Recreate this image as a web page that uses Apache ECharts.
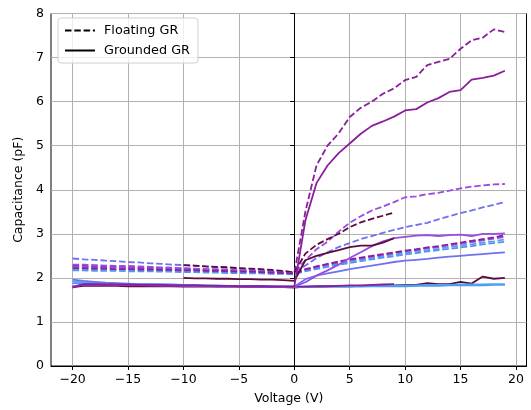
<!DOCTYPE html>
<html>
<head>
<meta charset="utf-8">
<script src="https://cdn.jsdelivr.net/npm/echarts@6/dist/echarts.min.js"></script>
<style>
html,body{margin:0;padding:0;background:#fff;}
#chart{width:531px;height:410px;}
</style>
</head>
<body>
<div id="chart"></div>
<script>
// Voltage sweeps
const volts = [-20,-19,-18,-17,-16,-15,-14,-13,-12,-11,-10,-9,-8,-7,-6,-5,-4,-3,-2,-1,0,1,2,3,4,5,6,7,8,9,10,11,12,13,14,15,16,17,18,19];
const voltsShort = [-10,-9,-8,-7,-6,-5,-4,-3,-2,-1,0,1,2,3,4,5,6,7,8,9];
const voltsTo9 = [-20,-19,-18,-17,-16,-15,-14,-13,-12,-11,-10,-9,-8,-7,-6,-5,-4,-3,-2,-1,0,1,2,3,4,5,6,7,8,9];
const xTicks = [-20,-15,-10,-5,0,5,10,15,20];
const yTicks = [0,1,2,3,4,5,6,7,8];

// Floating GR (dashed)
const floatA = [2.27,2.27,2.26,2.25,2.25,2.24,2.23,2.23,2.22,2.21,2.21,2.2,2.19,2.19,2.18,2.17,2.16,2.15,2.14,2.12,2.1,3.5,4.55,5.0,5.28,5.65,5.86,6.0,6.18,6.3,6.49,6.56,6.83,6.9,6.97,7.2,7.39,7.45,7.64,7.58];
const floatB = [2.3,2.3,2.29,2.28,2.27,2.27,2.26,2.25,2.24,2.23,2.22,2.21,2.2,2.19,2.18,2.17,2.16,2.15,2.14,2.13,2.12,2.4,2.65,2.82,3.05,3.25,3.4,3.53,3.62,3.72,3.83,3.85,3.9,3.93,3.98,4.03,4.07,4.1,4.12,4.13];
const floatC = [2.44,2.42,2.41,2.39,2.38,2.36,2.35,2.33,2.32,2.3,2.29,2.27,2.26,2.24,2.23,2.21,2.2,2.18,2.16,2.14,2.12,2.28,2.45,2.58,2.7,2.79,2.88,2.95,3.02,3.09,3.15,3.2,3.25,3.33,3.4,3.47,3.53,3.6,3.66,3.72];
const floatD = [2.29,2.28,2.26,2.25,2.24,2.22,2.21,2.2,2.18,2.16,2.12,2.55,2.75,2.88,3.0,3.15,3.26,3.34,3.41,3.48];
const floatE = [2.22,2.22,2.21,2.21,2.2,2.2,2.19,2.19,2.18,2.18,2.17,2.17,2.16,2.16,2.15,2.14,2.14,2.13,2.12,2.11,2.1,2.2,2.26,2.32,2.37,2.42,2.46,2.5,2.54,2.58,2.62,2.65,2.69,2.72,2.76,2.8,2.84,2.88,2.92,2.97];
const floatF = [2.25,2.25,2.24,2.24,2.23,2.22,2.22,2.21,2.2,2.2,2.19,2.18,2.17,2.17,2.16,2.15,2.14,2.13,2.12,2.11,2.1,2.18,2.24,2.3,2.35,2.4,2.44,2.48,2.52,2.56,2.6,2.63,2.67,2.7,2.74,2.77,2.81,2.85,2.89,2.93];
const floatG = [2.2,2.2,2.19,2.19,2.18,2.18,2.17,2.17,2.16,2.16,2.15,2.15,2.14,2.14,2.13,2.13,2.12,2.11,2.1,2.1,2.09,2.17,2.22,2.27,2.32,2.37,2.41,2.45,2.49,2.53,2.56,2.6,2.63,2.66,2.7,2.73,2.76,2.8,2.83,2.87];
const floatH = [2.17,2.17,2.16,2.16,2.16,2.15,2.15,2.15,2.14,2.14,2.13,2.13,2.12,2.12,2.11,2.11,2.1,2.1,2.09,2.09,2.08,2.15,2.2,2.25,2.3,2.34,2.38,2.42,2.46,2.49,2.53,2.56,2.6,2.63,2.66,2.69,2.72,2.76,2.79,2.82];

// Grounded GR (solid)
const groundA = [1.78,1.86,1.86,1.85,1.85,1.85,1.84,1.84,1.84,1.83,1.83,1.83,1.82,1.82,1.82,1.81,1.81,1.81,1.8,1.8,1.8,3.3,4.15,4.55,4.83,5.05,5.27,5.45,5.55,5.66,5.8,5.83,5.98,6.08,6.22,6.26,6.5,6.54,6.59,6.7];
const groundB = [2.0,1.99,1.99,1.98,1.98,1.97,1.97,1.96,1.96,1.95,1.93,2.4,2.5,2.57,2.63,2.7,2.73,2.73,2.8,2.9];
const groundC = [1.8,1.85,1.85,1.85,1.84,1.84,1.84,1.83,1.83,1.83,1.82,1.82,1.82,1.81,1.81,1.81,1.8,1.8,1.8,1.8,1.8,1.9,2.05,2.17,2.3,2.45,2.58,2.72,2.83,2.9,2.93,2.96,2.97,2.95,2.97,2.98,2.95,3.0,3.0,3.01];
const groundD = [1.96,1.93,1.91,1.89,1.88,1.87,1.86,1.86,1.85,1.85,1.84,1.84,1.83,1.83,1.82,1.82,1.81,1.81,1.8,1.8,1.8,1.97,2.05,2.1,2.15,2.2,2.24,2.28,2.32,2.36,2.39,2.41,2.43,2.46,2.48,2.5,2.52,2.54,2.56,2.58];
const groundE = [1.92,1.9,1.89,1.88,1.87,1.86,1.86,1.85,1.85,1.84,1.84,1.83,1.83,1.82,1.82,1.82,1.81,1.81,1.81,1.8,1.8,1.8,1.8,1.81,1.81,1.81,1.82,1.82,1.82,1.83,1.83,1.83,1.84,1.84,1.84,1.85,1.85,1.85,1.86,1.86];
const groundF = [1.88,1.87,1.86,1.86,1.85,1.85,1.84,1.84,1.83,1.83,1.83,1.82,1.82,1.81,1.81,1.81,1.8,1.8,1.8,1.79,1.79,1.79,1.79,1.8,1.8,1.8,1.8,1.81,1.81,1.81,1.81,1.82,1.82,1.82,1.83,1.83,1.83,1.83,1.84,1.84];
const groundG = [1.8,1.84,1.84,1.84,1.84,1.83,1.83,1.83,1.83,1.82,1.82,1.82,1.82,1.81,1.81,1.81,1.81,1.81,1.8,1.8,1.8,1.8,1.81,1.81,1.82,1.83,1.83,1.84,1.85,1.86];
const groundH = [1.79,1.82,1.82,1.82,1.82,1.81,1.81,1.81,1.81,1.81,1.8,1.8,1.8,1.8,1.8,1.8,1.79,1.79,1.79,1.79,1.78,1.8,1.8,1.81,1.81,1.81,1.82,1.82,1.83,1.83,1.84,1.84,1.88,1.86,1.86,1.91,1.87,2.03,1.98,2.0];

const C_MAROON = '#5c0b3e';
const C_PURPLE = '#8a1f9c';
const C_MPURPLE = '#9a4be2';
const C_SLATE = '#7070f2';
const C_BLUE = '#5a8ef2';
const C_LBLUE = '#46a6ee';

function pairs(xs, ys){ return xs.map((x,i)=>[x, ys[i]]); }

const DASH = [6.5, 2.8];
const LW = 1.8;
function mk(name, xs, ys, color, dashed){
  return {
    name: name, type: 'line', data: pairs(xs, ys),
    symbol: 'none', silent: true,
    lineStyle: {color: color, width: LW, type: dashed ? DASH : 'solid'},
    itemStyle: {color: color},
    z: 2
  };
}

const series = [
  mk('fA', volts, floatA, C_PURPLE, true),
  mk('fB', volts, floatB, C_MPURPLE, true),
  mk('fC', volts, floatC, C_SLATE, true),
  mk('fD', voltsShort, floatD, C_MAROON, true),
  mk('fH', volts, floatH, C_BLUE, true),
  mk('fG', volts, floatG, C_LBLUE, true),
  mk('fF', volts, floatF, C_MPURPLE, true),
  mk('fE', volts, floatE, C_PURPLE, true),
  mk('gH', volts, groundH, C_MAROON, false),
  mk('gF', volts, groundF, C_BLUE, false),
  mk('gE', volts, groundE, C_LBLUE, false),
  mk('gG', voltsTo9, groundG, C_PURPLE, false),
  mk('gD', volts, groundD, C_SLATE, false),
  mk('gC', volts, groundC, C_MPURPLE, false),
  mk('gB', voltsShort, groundB, C_MAROON, false),
  mk('gA', volts, groundA, C_PURPLE, false),
  {name: 'Floating GR', type: 'line', data: [], symbol: 'none', showSymbol: false,
   lineStyle: {color: '#000', width: LW, type: DASH}, itemStyle: {color: '#000'}},
  {name: 'Grounded GR', type: 'line', data: [], symbol: 'none', showSymbol: false,
   lineStyle: {color: '#000', width: LW, type: 'solid'}, itemStyle: {color: '#000'}}
];

const FONT = 'DejaVu Sans';
const fmt = v => String(v).replace('-', '\u2212');

const chart = echarts.init(document.getElementById('chart'), null, {renderer: 'canvas'});
chart.setOption({
  animation: false,
  backgroundColor: '#fff',
  textStyle: {fontFamily: FONT},
  grid: {left: 51, right: 4.5, top: 13.5, bottom: 43, show: true, borderColor: '#000', borderWidth: 1, backgroundColor: 'transparent'},
  legend: {
    data: ['Floating GR', 'Grounded GR'],
    orient: 'vertical', left: 58, top: 18,
    itemWidth: 30, itemHeight: 10, itemGap: 7,
    padding: [6, 8, 6, 6],
    borderColor: '#d0d0d0', borderWidth: 1, borderRadius: 3,
    backgroundColor: 'rgba(255,255,255,0.8)',
    itemStyle: {opacity: 0},
    lineStyle: {color: '#000', opacity: 1},
    textStyle: {fontFamily: FONT, fontSize: 12.8, color: '#000', padding: [0, 0, 0, 4]},
    selectedMode: false
  },
  xAxis: {
    type: 'value', min: -21.95, max: 20.95,
    name: 'Voltage (V)', nameLocation: 'middle', nameGap: 26,
    nameTextStyle: {fontFamily: FONT, fontSize: 12.5, color: '#000'},
    axisLine: {show: true, onZero: false, lineStyle: {color: '#000', width: 1}},
    axisTick: {show: true, length: 4, lineStyle: {color: '#000'}, customValues: xTicks},
    axisLabel: {customValues: xTicks, formatter: fmt, fontFamily: FONT, fontSize: 12.5, color: '#000', margin: 7},
    splitLine: {show: true, lineStyle: {color: '#b0b0b0', width: 1}}
  },
  yAxis: {
    type: 'value', min: 0, max: 8, interval: 1,
    name: 'Capacitance (pF)', nameLocation: 'middle', nameGap: 22,
    nameTextStyle: {fontFamily: FONT, fontSize: 12.5, color: '#000'},
    axisLine: {show: true, lineStyle: {color: '#000', width: 1}},
    axisTick: {show: true, length: 4, lineStyle: {color: '#000'}},
    axisLabel: {formatter: fmt, fontFamily: FONT, fontSize: 12.5, color: '#000', margin: 7},
    splitLine: {show: true, lineStyle: {color: '#b0b0b0', width: 1}}
  },
  series: series
});
</script>
</body>
</html>
